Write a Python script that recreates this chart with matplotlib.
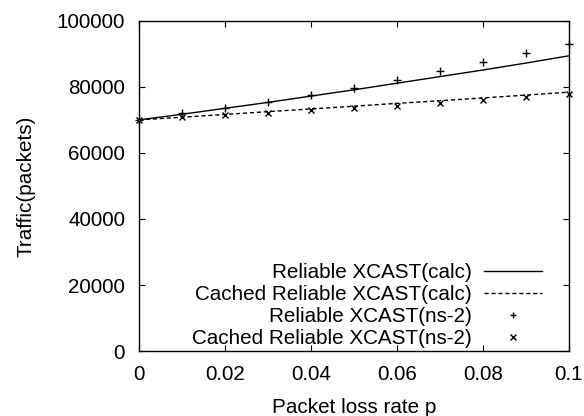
import numpy as np
import matplotlib
matplotlib.use('Agg')
import matplotlib.pyplot as plt

plt.rcParams['font.family'] = ['Liberation Sans', 'DejaVu Sans']

# packet loss rate
p = [0.0, 0.01, 0.02, 0.03, 0.04, 0.05, 0.06, 0.07, 0.08, 0.09, 0.1]

# analytical curves
reliable_calc = [70000, 71700, 73500, 75300, 77200, 79100, 81100, 83100, 85100, 87200, 89400]
cached_calc = [70000, 70800, 71650, 72500, 73300, 74150, 75000, 75800, 76650, 77500, 78400]

# ns-2 simulation points
reliable_ns2 = [70000, 72000, 73700, 75500, 77500, 79600, 82100, 84800, 87500, 90200, 92900]
cached_ns2 = [70000, 70800, 71400, 72100, 72900, 73700, 74300, 75150, 76150, 76900, 77800]

fs = 14.9
fig = plt.figure(figsize=(5.84, 4.16), dpi=100)
ax = fig.add_axes([0.238, 0.156, 0.736, 0.794])

ax.plot(p, reliable_calc, '-', color='black', lw=1.0, label='Reliable XCAST(calc)')
ax.plot(p, cached_calc, '--', color='black', lw=1.0, dashes=(3, 2), label='Cached Reliable XCAST(calc)')
ax.plot(p, reliable_ns2, '+', color='black', ms=6, mew=1.0, clip_on=False, label='Reliable XCAST(ns-2)')
ax.plot(p, cached_ns2, 'x', color='black', ms=5, mew=1.0, clip_on=False, label='Cached Reliable XCAST(ns-2)')

ax.set_xlim(0, 0.1)
ax.set_ylim(0, 100000)
ax.set_xticks([0, 0.02, 0.04, 0.06, 0.08, 0.1])
ax.set_xticklabels(['0', '0.02', '0.04', '0.06', '0.08', '0.1'])
ax.set_yticks(range(0, 100001, 20000))
ax.tick_params(direction='in', top=True, right=True, length=4.5, width=0.8,
               labelsize=fs, pad=10)
for s in ax.spines.values():
    s.set_linewidth(1.0)

ax.set_xlabel('Packet loss rate p', fontsize=fs, labelpad=10)
ax.set_ylabel('Traffic(packets)', fontsize=fs, labelpad=15)

leg = ax.legend(loc='lower right', bbox_to_anchor=(0.937, 0.008), frameon=False,
                markerfirst=False, fontsize=fs, handlelength=2.8, handletextpad=0.6,
                labelspacing=0.15, borderpad=0, borderaxespad=0)
for h in leg.legend_handles[2:]:
    h.set_markersize(4)

fig.savefig('out.png', dpi=100)
